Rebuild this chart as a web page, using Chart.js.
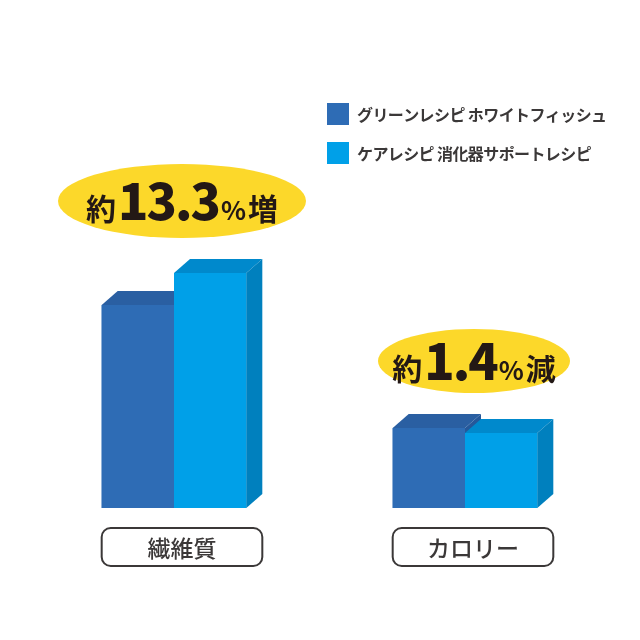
<!DOCTYPE html>
<html lang="ja">
<head>
<meta charset="utf-8">
<script src="https://cdn.jsdelivr.net/npm/chart.js@4"></script>
<style>
  html, body { margin: 0; padding: 0; background: #fff; }
  #wrap { width: 640px; height: 640px; position: relative; }
</style>
</head>
<body>
<div id="wrap"><canvas id="myChart"></canvas></div>
<script>
// data (bar heights, arbitrary units)
const categories = ['繊維質', 'カロリー'];
const seriesNames = ['グリーンレシピ ホワイトフィッシュ', 'ケアレシピ 消化器サポートレシピ'];
const greenRecipe = [203, 80];
const careRecipe = [235, 75];
const changeValues = ['13.3', '1.4'];
const changeWords = ['増', '減'];

const FONT = '"Noto Sans CJK JP", "Noto Sans", sans-serif';
const frontColors = ['#2e6cb5', '#00a0e8'];
const topColors = ['#2a5fa2', '#0089cc'];
const sideColors = ['#25589a', '#0080be'];
const depth = { x: 16, y: -14 };

// 3D faces for each bar, drawn in dataset order so the second bar covers the first one's side
const bars3d = {
  id: 'bars3d',
  afterDatasetsDraw(chart) {
    const ctx = chart.ctx;
    ctx.save();
    chart.data.datasets.forEach((ds, i) => {
      chart.getDatasetMeta(i).data.forEach(bar => {
        const left = bar.x - bar.width / 2;
        const right = bar.x + bar.width / 2;
        const top = bar.y;
        const base = bar.base;
        ctx.fillStyle = frontColors[i];
        ctx.fillRect(left, top, right - left, base - top);
        ctx.fillStyle = topColors[i];
        ctx.beginPath();
        ctx.moveTo(left, top);
        ctx.lineTo(left + depth.x, top + depth.y);
        ctx.lineTo(right + depth.x, top + depth.y);
        ctx.lineTo(right, top);
        ctx.closePath();
        ctx.fill();
        ctx.fillStyle = sideColors[i];
        ctx.beginPath();
        ctx.moveTo(right, top);
        ctx.lineTo(right + depth.x, top + depth.y);
        ctx.lineTo(right + depth.x, base + depth.y);
        ctx.lineTo(right, base);
        ctx.closePath();
        ctx.fill();
      });
    });
    ctx.restore();
  }
};

// pill sizes and offsets above the tallest bar of each group
const pills = [
  { dx: 8, rise: 72, rx: 124, ry: 37 },
  { dx: 9, rise: 67, rx: 96, ry: 32 }
];

const extras = {
  id: 'extras',
  afterDraw(chart) {
    const ctx = chart.ctx;
    const xs = chart.scales.x;
    const m0 = chart.getDatasetMeta(0).data;
    const m1 = chart.getDatasetMeta(1).data;
    ctx.save();

    categories.forEach((cat, i) => {
      const cx = xs.getPixelForValue(i);
      const groupLeft = m0[i].x - m0[i].width / 2;
      const groupRight = m1[i].x + m1[i].width / 2 + depth.x;

      // category label box
      const bx = groupLeft, bw = groupRight - groupLeft, by = 528, bh = 38;
      ctx.lineWidth = 2;
      ctx.strokeStyle = '#3b3838';
      ctx.beginPath();
      ctx.roundRect(bx, by, bw, bh, 9);
      ctx.stroke();
      ctx.fillStyle = '#3b3838';
      ctx.font = '500 23px ' + FONT;
      ctx.textAlign = 'center';
      ctx.textBaseline = 'middle';
      ctx.fillText(cat, bx + bw / 2, by + bh / 2 + 1);

      // yellow pill
      const topY = Math.min(m0[i].y, m1[i].y);
      const p = pills[i];
      const px = cx + p.dx, py = topY - p.rise;
      ctx.fillStyle = '#fcd82a';
      ctx.beginPath();
      ctx.ellipse(px, py, p.rx, p.ry, 0, 0, Math.PI * 2);
      ctx.fill();

      const parts = [
        { t: '約', f: 'bold 30px ' + FONT, ls: 0 },
        { t: changeValues[i], f: '900 50px ' + FONT, ls: -2 },
        { t: '%', f: 'bold 26px ' + FONT, ls: 0 },
        { t: changeWords[i], f: 'bold 30px ' + FONT, ls: 0 }
      ];
      const gap = 2;
      let total = 0;
      parts.forEach(pt => {
        ctx.font = pt.f;
        ctx.letterSpacing = pt.ls + 'px';
        pt.w = ctx.measureText(pt.t).width;
        total += pt.w;
      });
      total += gap * (parts.length - 1);
      let x = px - total / 2;
      ctx.fillStyle = '#231815';
      ctx.textAlign = 'left';
      ctx.textBaseline = 'alphabetic';
      parts.forEach(pt => {
        ctx.font = pt.f;
        ctx.letterSpacing = pt.ls + 'px';
        ctx.fillText(pt.t, x, py + 19);
        x += pt.w + gap;
      });
      ctx.letterSpacing = '0px';
    });

    // legend
    ctx.textAlign = 'left';
    ctx.textBaseline = 'middle';
    ctx.font = 'bold 16px ' + FONT;
    ctx.letterSpacing = '-0.6px';
    seriesNames.forEach((name, i) => {
      const ly = 114 + i * 39;
      ctx.fillStyle = frontColors[i];
      ctx.fillRect(327, ly - 11, 22, 22);
      ctx.fillStyle = '#3b3838';
      ctx.fillText(name, 357, ly + 1);
    });
    ctx.letterSpacing = '0px';
    ctx.restore();
  }
};

new Chart(document.getElementById('myChart'), {
  type: 'bar',
  data: {
    labels: categories,
    datasets: [
      { label: seriesNames[0], data: greenRecipe, backgroundColor: frontColors[0], borderWidth: 0 },
      { label: seriesNames[1], data: careRecipe, backgroundColor: frontColors[1], borderWidth: 0 }
    ]
  },
  options: {
    responsive: true,
    maintainAspectRatio: false,
    animation: false,
    layout: { padding: { top: 208, bottom: 132, left: 28.5, right: 29.5 } },
    datasets: { bar: { barPercentage: 1, categoryPercentage: 0.497 } },
    scales: {
      x: { display: false },
      y: { display: false, min: 0, max: 300 }
    },
    plugins: {
      legend: { display: false },
      tooltip: { enabled: false }
    }
  },
  plugins: [bars3d, extras]
});
</script>
</body>
</html>
